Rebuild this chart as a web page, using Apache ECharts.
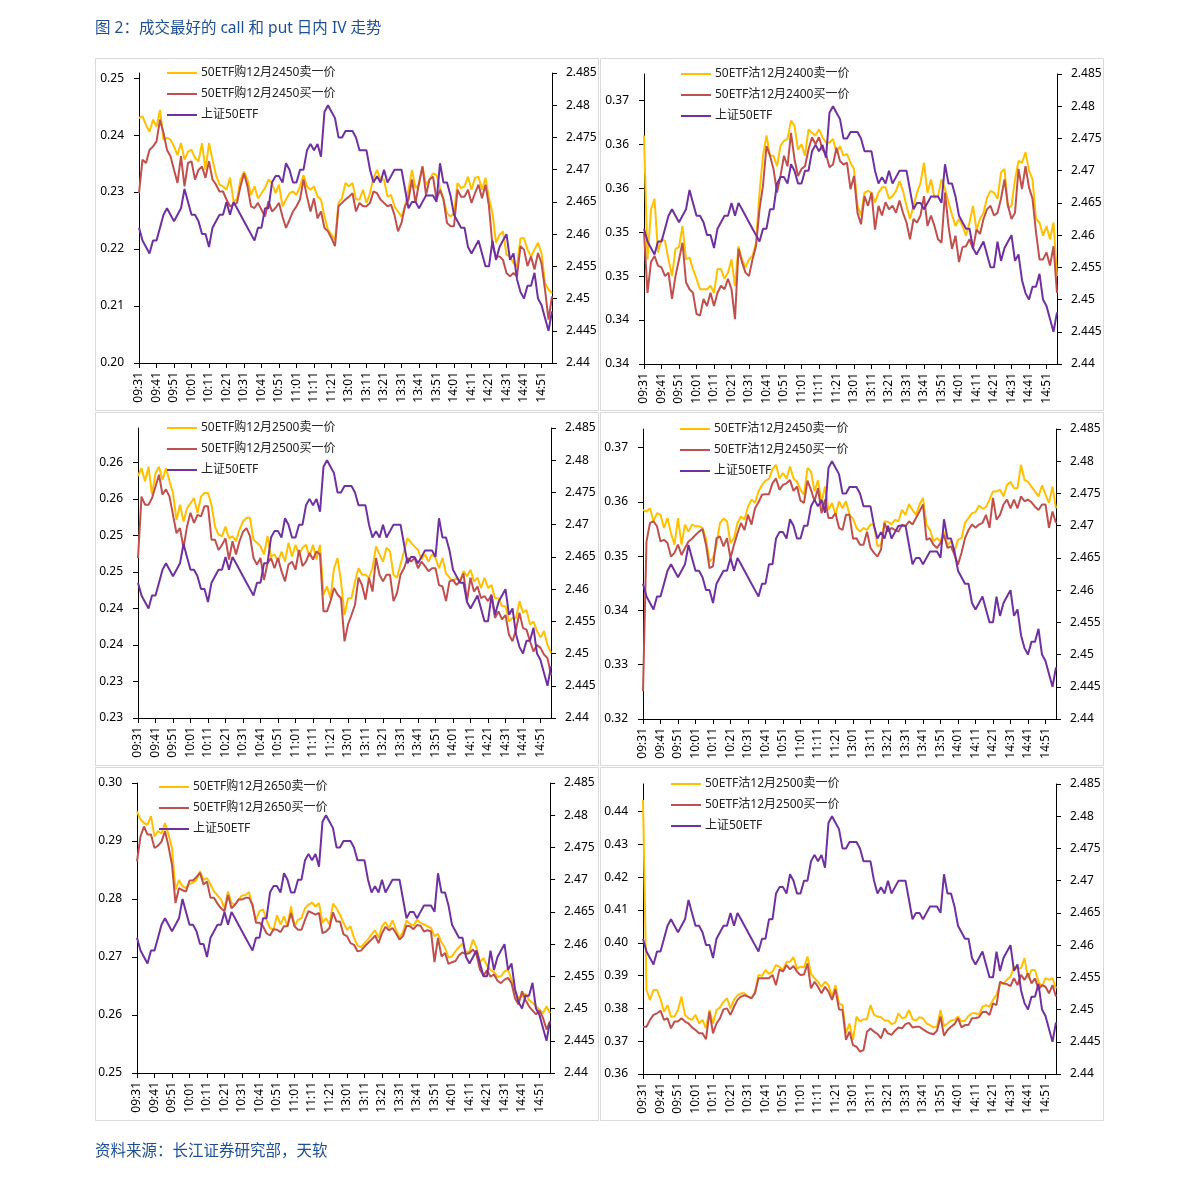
<!DOCTYPE html>
<html><head><meta charset="utf-8">
<script src="https://cdn.jsdelivr.net/npm/echarts@6/dist/echarts.min.js"></script>
<style>html,body{margin:0;padding:0;background:#fff}#c{width:1191px;height:1181px}</style>
</head><body><div id="c"></div>
<script>
// ---- categories (2-minute samples) ----
const CATS = [
"09:31","09:33","09:35","09:37","09:39","09:41","09:43","09:45","09:47","09:49",
"09:51","09:53","09:55","09:57","09:59","10:01","10:03","10:05","10:07","10:09",
"10:11","10:13","10:15","10:17","10:19","10:21","10:23","10:25","10:27","10:29",
"10:31","10:33","10:35","10:37","10:39","10:41","10:43","10:45","10:47","10:49",
"10:51","10:53","10:55","10:57","10:59","11:01","11:03","11:05","11:07","11:09",
"11:11","11:13","11:15","11:17","11:19","11:21","11:23","11:25","11:27","11:29",
"13:01","13:03","13:05","13:07","13:09","13:11","13:13","13:15","13:17","13:19",
"13:21","13:23","13:25","13:27","13:29","13:31","13:33","13:35","13:37","13:39",
"13:41","13:43","13:45","13:47","13:49","13:51","13:53","13:55","13:57","13:59",
"14:01","14:03","14:05","14:07","14:09","14:11","14:13","14:15","14:17","14:19",
"14:21","14:23","14:25","14:27","14:29","14:31","14:33","14:35","14:37","14:39",
"14:41","14:43","14:45","14:47","14:49","14:51","14:53","14:55","14:57"];

// ---- 上证50ETF (right axis, same in every panel) ----
const ETF = [2.461,2.459,2.458,2.457,2.459,2.459,2.461,2.463,2.464,2.463,
2.462,2.463,2.464,2.467,2.465,2.463,2.463,2.462,2.460,2.460,
2.458,2.461,2.462,2.463,2.463,2.465,2.463,2.465,2.464,2.463,
2.462,2.461,2.460,2.459,2.461,2.461,2.464,2.464,2.468,2.469,
2.469,2.468,2.471,2.470,2.468,2.468,2.470,2.470,2.473,2.474,
2.473,2.474,2.472,2.479,2.480,2.479,2.478,2.475,2.475,2.476,
2.476,2.476,2.475,2.473,2.473,2.473,2.470,2.468,2.469,2.468,
2.470,2.468,2.469,2.470,2.470,2.470,2.467,2.464,2.465,2.465,
2.464,2.465,2.466,2.466,2.466,2.465,2.471,2.468,2.468,2.466,
2.463,2.462,2.461,2.461,2.458,2.457,2.458,2.459,2.457,2.455,
2.455,2.459,2.456,2.458,2.459,2.460,2.456,2.457,2.453,2.451,
2.450,2.452,2.452,2.454,2.450,2.449,2.447,2.445,2.448];

// ---- Panel 1: 50ETF购12月2450 ----
const P1S = [0.2430,0.2433,0.2418,0.2406,0.2427,0.2415,0.2444,0.2392,0.2395,0.2392,
0.2380,0.2365,0.2386,0.2357,0.2371,0.2374,0.2360,0.2354,0.2386,0.2339,
0.2386,0.2357,0.2330,0.2313,0.2310,0.2304,0.2325,0.2284,0.2287,0.2322,
0.2336,0.2322,0.2295,0.2310,0.2289,0.2298,0.2307,0.2322,0.2316,0.2298,
0.2313,0.2275,0.2287,0.2298,0.2301,0.2295,0.2310,0.2330,0.2310,0.2304,
0.2310,0.2292,0.2287,0.2257,0.2234,0.2225,0.2216,0.2281,0.2289,0.2316,
0.2310,0.2316,0.2287,0.2287,0.2304,0.2281,0.2298,0.2325,0.2339,0.2322,
0.2322,0.2292,0.2295,0.2275,0.2266,0.2257,0.2275,0.2304,0.2339,0.2307,
0.2313,0.2345,0.2313,0.2322,0.2333,0.2330,0.2307,0.2287,0.2263,0.2257,
0.2263,0.2316,0.2307,0.2310,0.2327,0.2304,0.2325,0.2327,0.2304,0.2325,
0.2289,0.2263,0.2211,0.2225,0.2231,0.2190,0.2187,0.2175,0.2170,0.2219,
0.2219,0.2199,0.2187,0.2199,0.2211,0.2193,0.2140,0.2129,0.2123];
const P1B = [0.2298,0.2357,0.2351,0.2374,0.2380,0.2389,0.2427,0.2404,0.2374,0.2363,
0.2339,0.2316,0.2363,0.2310,0.2351,0.2354,0.2322,0.2339,0.2345,0.2325,
0.2354,0.2322,0.2313,0.2301,0.2301,0.2287,0.2275,0.2278,0.2281,0.2310,
0.2333,0.2310,0.2275,0.2272,0.2281,0.2269,0.2257,0.2284,0.2266,0.2272,
0.2281,0.2257,0.2237,0.2251,0.2266,0.2275,0.2287,0.2322,0.2292,0.2266,
0.2289,0.2254,0.2266,0.2237,0.2231,0.2219,0.2205,0.2275,0.2281,0.2287,
0.2292,0.2298,0.2266,0.2281,0.2275,0.2275,0.2281,0.2301,0.2298,0.2287,
0.2281,0.2275,0.2278,0.2260,0.2231,0.2246,0.2275,0.2287,0.2322,0.2281,
0.2316,0.2345,0.2295,0.2322,0.2327,0.2287,0.2304,0.2287,0.2246,0.2240,
0.2240,0.2304,0.2292,0.2292,0.2304,0.2281,0.2298,0.2313,0.2289,0.2313,
0.2275,0.2205,0.2187,0.2187,0.2181,0.2158,0.2152,0.2158,0.2152,0.2205,
0.2199,0.2170,0.2187,0.2164,0.2193,0.2175,0.2129,0.2076,0.2117];

// ---- Panel 2: 50ETF沽12月2400 ----
const P2S = [0.3610,0.3469,0.3526,0.3538,0.3477,0.3492,0.3490,0.3469,0.3450,0.3481,
0.3483,0.3507,0.3469,0.3471,0.3458,0.3447,0.3435,0.3435,0.3435,0.3439,
0.3431,0.3458,0.3458,0.3447,0.3454,0.3469,0.3439,0.3484,0.3469,0.3460,
0.3469,0.3473,0.3488,0.3545,0.3587,0.3610,0.3587,0.3587,0.3575,0.3598,
0.3604,0.3606,0.3627,0.3621,0.3594,0.3600,0.3587,0.3617,0.3613,0.3610,
0.3617,0.3608,0.3602,0.3602,0.3606,0.3591,0.3598,0.3587,0.3589,0.3579,
0.3572,0.3530,0.3519,0.3545,0.3547,0.3545,0.3534,0.3545,0.3551,0.3551,
0.3538,0.3541,0.3547,0.3558,0.3547,0.3530,0.3515,0.3530,0.3545,0.3556,
0.3579,0.3545,0.3560,0.3539,0.3541,0.3560,0.3549,0.3534,0.3520,0.3507,
0.3515,0.3507,0.3496,0.3511,0.3530,0.3502,0.3515,0.3522,0.3539,0.3547,
0.3545,0.3538,0.3568,0.3572,0.3528,0.3530,0.3560,0.3581,0.3579,0.3591,
0.3570,0.3560,0.3515,0.3511,0.3496,0.3507,0.3492,0.3511,0.3450];
const P2B = [0.3500,0.3431,0.3466,0.3473,0.3462,0.3460,0.3450,0.3454,0.3424,0.3450,
0.3469,0.3488,0.3443,0.3435,0.3431,0.3407,0.3405,0.3424,0.3416,0.3431,
0.3416,0.3431,0.3439,0.3435,0.3447,0.3435,0.3401,0.3481,0.3466,0.3454,
0.3450,0.3469,0.3484,0.3526,0.3553,0.3598,0.3587,0.3572,0.3545,0.3564,
0.3587,0.3575,0.3613,0.3583,0.3564,0.3572,0.3575,0.3594,0.3608,0.3600,
0.3608,0.3594,0.3589,0.3574,0.3577,0.3596,0.3581,0.3577,0.3579,0.3549,
0.3564,0.3522,0.3509,0.3541,0.3530,0.3545,0.3503,0.3530,0.3519,0.3534,
0.3526,0.3530,0.3522,0.3536,0.3522,0.3511,0.3492,0.3515,0.3511,0.3519,
0.3541,0.3507,0.3519,0.3507,0.3492,0.3488,0.3545,0.3507,0.3481,0.3496,
0.3466,0.3483,0.3484,0.3492,0.3481,0.3503,0.3498,0.3515,0.3526,0.3530,
0.3519,0.3522,0.3538,0.3560,0.3530,0.3515,0.3522,0.3572,0.3549,0.3575,
0.3551,0.3538,0.3500,0.3469,0.3469,0.3477,0.3462,0.3484,0.3431];

// ---- Panel 3: 50ETF购12月2500 ----
const P3S = [0.2581,0.2592,0.2574,0.2594,0.2556,0.2585,0.2594,0.2576,0.2592,0.2574,
0.2558,0.2521,0.2542,0.2519,0.2537,0.2544,0.2551,0.2531,0.2553,0.2558,
0.2558,0.2542,0.2512,0.2501,0.2499,0.2512,0.2496,0.2499,0.2492,0.2508,
0.2519,0.2524,0.2524,0.2494,0.2490,0.2485,0.2474,0.2499,0.2471,0.2474,
0.2464,0.2478,0.2464,0.2490,0.2471,0.2487,0.2474,0.2483,0.2487,0.2471,
0.2487,0.2467,0.2487,0.2419,0.2430,0.2414,0.2455,0.2469,0.2437,0.2391,
0.2414,0.2414,0.2437,0.2455,0.2446,0.2446,0.2442,0.2455,0.2485,0.2474,
0.2464,0.2483,0.2478,0.2446,0.2442,0.2460,0.2478,0.2496,0.2490,0.2485,
0.2480,0.2467,0.2474,0.2464,0.2474,0.2469,0.2455,0.2469,0.2448,0.2442,
0.2437,0.2442,0.2437,0.2451,0.2444,0.2453,0.2437,0.2442,0.2428,0.2442,
0.2428,0.2432,0.2414,0.2414,0.2403,0.2403,0.2382,0.2387,0.2387,0.2410,
0.2394,0.2398,0.2378,0.2382,0.2369,0.2360,0.2369,0.2350,0.2339];
const P3B = [0.2469,0.2553,0.2542,0.2542,0.2551,0.2567,0.2583,0.2556,0.2563,0.2553,
0.2528,0.2503,0.2510,0.2483,0.2512,0.2531,0.2517,0.2528,0.2526,0.2540,
0.2540,0.2494,0.2494,0.2480,0.2487,0.2496,0.2467,0.2492,0.2474,0.2492,
0.2505,0.2510,0.2499,0.2469,0.2460,0.2469,0.2439,0.2462,0.2469,0.2455,
0.2469,0.2451,0.2437,0.2460,0.2464,0.2453,0.2480,0.2458,0.2464,0.2476,
0.2467,0.2478,0.2474,0.2396,0.2396,0.2410,0.2428,0.2419,0.2414,0.2355,
0.2378,0.2391,0.2405,0.2442,0.2432,0.2412,0.2442,0.2423,0.2469,0.2446,
0.2437,0.2446,0.2446,0.2410,0.2421,0.2446,0.2455,0.2469,0.2464,0.2469,
0.2455,0.2464,0.2458,0.2451,0.2455,0.2455,0.2432,0.2430,0.2410,0.2437,
0.2439,0.2432,0.2437,0.2448,0.2410,0.2442,0.2423,0.2430,0.2414,0.2417,
0.2410,0.2419,0.2387,0.2396,0.2385,0.2391,0.2364,0.2355,0.2371,0.2394,
0.2373,0.2371,0.2355,0.2341,0.2350,0.2346,0.2337,0.2332,0.2309];

// ---- Panel 4: 50ETF沽12月2450 ----
const P4S = [0.3585,0.3582,0.3588,0.3564,0.3579,0.3576,0.3552,0.3570,0.3542,0.3521,
0.3570,0.3521,0.3558,0.3545,0.3558,0.3555,0.3555,0.3552,0.3532,0.3490,
0.3496,0.3521,0.3561,0.3569,0.3564,0.3524,0.3533,0.3561,0.3573,0.3567,
0.3591,0.3604,0.3598,0.3619,0.3631,0.3639,0.3642,0.3660,0.3668,0.3643,
0.3653,0.3643,0.3665,0.3643,0.3637,0.3622,0.3613,0.3662,0.3656,0.3619,
0.3640,0.3598,0.3628,0.3585,0.3598,0.3576,0.3601,0.3588,0.3601,0.3576,
0.3569,0.3552,0.3545,0.3552,0.3548,0.3558,0.3558,0.3518,0.3521,0.3564,
0.3563,0.3558,0.3567,0.3564,0.3585,0.3576,0.3596,0.3585,0.3576,0.3595,
0.3607,0.3558,0.3548,0.3528,0.3533,0.3527,0.3545,0.3521,0.3527,0.3509,
0.3530,0.3533,0.3561,0.3570,0.3579,0.3581,0.3593,0.3587,0.3590,0.3604,
0.3619,0.3619,0.3622,0.3610,0.3631,0.3637,0.3625,0.3625,0.3668,0.3640,
0.3637,0.3628,0.3619,0.3610,0.3630,0.3613,0.3598,0.3628,0.3588];
const P4B = [0.3251,0.3527,0.3561,0.3564,0.3555,0.3527,0.3530,0.3524,0.3499,0.3506,
0.3521,0.3502,0.3515,0.3527,0.3532,0.3539,0.3545,0.3550,0.3521,0.3478,
0.3481,0.3533,0.3536,0.3518,0.3533,0.3496,0.3521,0.3542,0.3561,0.3548,
0.3576,0.3558,0.3588,0.3599,0.3613,0.3614,0.3614,0.3634,0.3643,0.3622,
0.3631,0.3634,0.3640,0.3620,0.3628,0.3602,0.3598,0.3639,0.3622,0.3601,
0.3625,0.3579,0.3604,0.3570,0.3570,0.3579,0.3552,0.3548,0.3576,0.3576,
0.3532,0.3533,0.3521,0.3521,0.3545,0.3515,0.3506,0.3499,0.3512,0.3561,
0.3545,0.3552,0.3548,0.3545,0.3558,0.3555,0.3564,0.3558,0.3570,0.3582,
0.3595,0.3530,0.3533,0.3521,0.3515,0.3524,0.3539,0.3515,0.3518,0.3502,
0.3484,0.3506,0.3533,0.3548,0.3558,0.3552,0.3558,0.3561,0.3576,0.3552,
0.3607,0.3567,0.3576,0.3595,0.3604,0.3588,0.3604,0.3588,0.3610,0.3601,
0.3604,0.3599,0.3591,0.3585,0.3595,0.3595,0.3552,0.3582,0.3561];

// ---- Panel 5: 50ETF购12月2650 ----
const P5S = [0.2951,0.2937,0.2931,0.2928,0.2943,0.2908,0.2917,0.2913,0.2931,0.2911,
0.2888,0.2816,0.2833,0.2822,0.2819,0.2826,0.2828,0.2833,0.2848,0.2833,
0.2836,0.2825,0.2813,0.2806,0.2799,0.2784,0.2813,0.2793,0.2790,0.2799,
0.2806,0.2807,0.2812,0.2787,0.2764,0.2779,0.2782,0.2764,0.2750,0.2747,
0.2772,0.2756,0.2770,0.2753,0.2787,0.2753,0.2764,0.2767,0.2784,0.2790,
0.2794,0.2787,0.2793,0.2759,0.2767,0.2756,0.2792,0.2784,0.2773,0.2759,
0.2747,0.2753,0.2733,0.2720,0.2717,0.2724,0.2730,0.2739,0.2746,0.2733,
0.2753,0.2760,0.2750,0.2763,0.2747,0.2733,0.2743,0.2763,0.2757,0.2754,
0.2764,0.2759,0.2756,0.2753,0.2750,0.2736,0.2740,0.2725,0.2716,0.2699,
0.2701,0.2710,0.2717,0.2723,0.2708,0.2710,0.2730,0.2716,0.2691,0.2698,
0.2685,0.2678,0.2674,0.2666,0.2667,0.2675,0.2678,0.2661,0.2641,0.2629,
0.2632,0.2637,0.2626,0.2621,0.2615,0.2609,0.2603,0.2615,0.2603];
const P5B = [0.2865,0.2908,0.2925,0.2911,0.2911,0.2888,0.2892,0.2899,0.2917,0.2891,
0.2859,0.2793,0.2819,0.2815,0.2813,0.2832,0.2832,0.2838,0.2845,0.2825,
0.2830,0.2802,0.2802,0.2792,0.2784,0.2779,0.2807,0.2784,0.2790,0.2799,
0.2799,0.2802,0.2802,0.2790,0.2759,0.2759,0.2753,0.2741,0.2737,0.2748,
0.2747,0.2743,0.2753,0.2753,0.2776,0.2753,0.2747,0.2747,0.2764,0.2779,
0.2776,0.2773,0.2776,0.2741,0.2744,0.2750,0.2777,0.2761,0.2761,0.2739,
0.2736,0.2724,0.2721,0.2710,0.2711,0.2718,0.2724,0.2730,0.2737,0.2724,
0.2741,0.2752,0.2746,0.2750,0.2741,0.2730,0.2736,0.2754,0.2753,0.2748,
0.2755,0.2754,0.2744,0.2746,0.2744,0.2691,0.2733,0.2701,0.2707,0.2688,
0.2691,0.2693,0.2703,0.2708,0.2705,0.2707,0.2713,0.2704,0.2678,0.2668,
0.2677,0.2666,0.2670,0.2659,0.2655,0.2661,0.2664,0.2655,0.2629,0.2618,
0.2641,0.2626,0.2615,0.2608,0.2601,0.2608,0.2595,0.2575,0.2589];

// ---- Panel 6: 50ETF沽12月2500 ----
const P6S = [0.4435,0.3856,0.3826,0.3856,0.3856,0.3828,0.3790,0.3810,0.3775,0.3775,
0.3795,0.3836,0.3780,0.3770,0.3765,0.3780,0.3754,0.3765,0.3739,0.3795,
0.3754,0.3795,0.3803,0.3820,0.3831,0.3800,0.3826,0.3840,0.3846,0.3846,
0.3836,0.3831,0.3846,0.3902,0.3899,0.3917,0.3905,0.3912,0.3932,0.3927,
0.3917,0.3942,0.3942,0.3956,0.3922,0.3927,0.3925,0.3958,0.3905,0.3892,
0.3881,0.3866,0.3881,0.3871,0.3836,0.3871,0.3815,0.3810,0.3724,0.3754,
0.3704,0.3775,0.3760,0.3767,0.3767,0.3810,0.3780,0.3775,0.3773,0.3763,
0.3763,0.3752,0.3756,0.3785,0.3770,0.3773,0.3795,0.3767,0.3763,0.3773,
0.3770,0.3754,0.3749,0.3742,0.3744,0.3795,0.3746,0.3754,0.3763,0.3765,
0.3775,0.3760,0.3763,0.3777,0.3785,0.3785,0.3781,0.3805,0.3810,0.3805,
0.3826,0.3841,0.3876,0.3876,0.3887,0.3897,0.3927,0.3922,0.3922,0.3953,
0.3892,0.3917,0.3917,0.3881,0.3866,0.3892,0.3887,0.3892,0.3861];
const P6B = [0.3744,0.3744,0.3765,0.3780,0.3785,0.3793,0.3765,0.3770,0.3739,0.3760,
0.3760,0.3770,0.3760,0.3754,0.3742,0.3734,0.3724,0.3724,0.3706,0.3790,
0.3724,0.3754,0.3770,0.3797,0.3800,0.3780,0.3805,0.3826,0.3836,0.3840,
0.3836,0.3831,0.3848,0.3892,0.3892,0.3892,0.3892,0.3902,0.3871,0.3919,
0.3912,0.3932,0.3919,0.3929,0.3912,0.3902,0.3903,0.3937,0.3861,0.3881,
0.3866,0.3846,0.3866,0.3851,0.3826,0.3858,0.3797,0.3795,0.3704,0.3729,
0.3688,0.3683,0.3668,0.3673,0.3729,0.3739,0.3729,0.3722,0.3709,0.3739,
0.3724,0.3719,0.3732,0.3742,0.3739,0.3752,0.3756,0.3742,0.3744,0.3744,
0.3736,0.3729,0.3724,0.3721,0.3732,0.3775,0.3717,0.3734,0.3744,0.3752,
0.3770,0.3742,0.3749,0.3749,0.3770,0.3771,0.3773,0.3789,0.3790,0.3780,
0.3815,0.3810,0.3881,0.3876,0.3874,0.3868,0.3892,0.3871,0.3902,0.3887,
0.3907,0.3876,0.3892,0.3858,0.3871,0.3866,0.3846,0.3871,0.3836];

// ---- tick labels ----
const P1_TICKS = [0.20,0.21,0.22,0.23,0.24,0.25];
const P2_TICKS = [0.335,0.34,0.345,0.35,0.355,0.36,0.365];
const P3_TICKS = [0.225,0.23,0.235,0.24,0.245,0.25,0.255,0.26];
const P4_TICKS = [0.32,0.33,0.34,0.35,0.36,0.37];
const P5_TICKS = [0.25,0.26,0.27,0.28,0.29,0.30];
const P6_TICKS = [0.36,0.37,0.38,0.39,0.40,0.41,0.42,0.43,0.44];
const ETF_TICKS = [2.44,2.445,2.45,2.455,2.46,2.465,2.47,2.475,2.48,2.485];

const ETF_NAME = '上证50ETF';
const TITLE = '图 2：成交最好的 call 和 put 日内 IV 走势';
const SOURCE = '资料来源：长江证券研究部，天软';

const PANELS = [
  {sell:P1S, buy:P1B, names:['50ETF购12月2450卖一价','50ETF购12月2450买一价'], ticks:P1_TICKS, min:0.20, max:0.2509, interval:0.01,
   grid:{left:139,top:73,width:413,height:290}, legend:{left:167,top:66}, box:[95,58,503,352]},
  {sell:P2S, buy:P2B, names:['50ETF沽12月2400卖一价','50ETF沽12月2400买一价'], ticks:P2_TICKS, min:0.335, max:0.3680, interval:0.005,
   grid:{left:644,top:74,width:413,height:290}, legend:{left:681,top:67}, box:[600,58,503,352]},
  {sell:P3S, buy:P3B, names:['50ETF购12月2500卖一价','50ETF购12月2500买一价'], ticks:P3_TICKS, min:0.225, max:0.2647, interval:0.005,
   grid:{left:138,top:428,width:413,height:290}, legend:{left:167,top:421}, box:[95,412,503,353]},
  {sell:P4S, buy:P4B, names:['50ETF沽12月2450卖一价','50ETF沽12月2450买一价'], ticks:P4_TICKS, min:0.32, max:0.3734, interval:0.01,
   grid:{left:643,top:429,width:413,height:290}, legend:{left:680,top:422}, box:[600,412,503,353]},
  {sell:P5S, buy:P5B, names:['50ETF购12月2650卖一价','50ETF购12月2650买一价'], ticks:P5_TICKS, min:0.25, max:0.30, interval:0.01,
   grid:{left:137,top:783,width:413,height:290}, legend:{left:159,top:780}, box:[95,767,503,353]},
  {sell:P6S, buy:P6B, names:['50ETF沽12月2500卖一价','50ETF沽12月2500买一价'], ticks:P6_TICKS, min:0.36, max:0.4484, interval:0.01,
   grid:{left:643,top:784,width:413,height:290}, legend:{left:671,top:777}, box:[600,767,503,353]}
];

const FONT = "'Noto Sans','Noto Sans CJK SC',sans-serif";
const C_SELL = '#FFC000', C_BUY = '#C0504D', C_ETF = '#7030A0';
const AX = '#000000';

const grids = [], xAxes = [], yAxes = [], series = [], legends = [], graphics = [];
PANELS.forEach((p, k) => {
  grids.push(Object.assign({containLabel:false}, p.grid));
  xAxes.push({type:'category', gridIndex:k, data:CATS, boundaryGap:false,
    axisLine:{lineStyle:{color:AX,width:1}},
    axisTick:{show:true, interval:4, length:5, lineStyle:{color:AX}},
    axisLabel:{interval:4, rotate:90, margin:9, fontSize:12, color:'#000', fontFamily:FONT},
    splitLine:{show:false}});
  yAxes.push({type:'value', gridIndex:k, position:'left', min:p.min, max:p.max, interval:p.interval,
    axisLine:{show:true, lineStyle:{color:AX,width:1}},
    axisTick:{show:true, length:5, customValues:p.ticks, lineStyle:{color:AX}},
    axisLabel:{customValues:p.ticks, margin:15, fontSize:12, color:'#000', fontFamily:FONT,
      formatter:v => (Math.round(v*100 + 1e-6)/100).toFixed(2)},
    splitLine:{show:false}});
  yAxes.push({type:'value', gridIndex:k, position:'right', min:2.44, max:2.485, interval:0.005,
    axisLine:{show:true, lineStyle:{color:AX,width:1}},
    axisTick:{show:true, length:5, customValues:ETF_TICKS, lineStyle:{color:AX}},
    axisLabel:{customValues:ETF_TICKS, margin:14, fontSize:12, color:'#000', fontFamily:FONT,
      formatter:v => String(+(+v).toFixed(3))},
    splitLine:{show:false}});
  const base = {type:'line', xAxisIndex:k, showSymbol:false, symbol:'none', animation:false, silent:true};
  series.push(Object.assign({}, base, {name:p.names[0], yAxisIndex:2*k, data:p.sell, color:C_SELL, lineStyle:{color:C_SELL,width:2}}));
  series.push(Object.assign({}, base, {name:p.names[1], yAxisIndex:2*k, data:p.buy, color:C_BUY, lineStyle:{color:C_BUY,width:2}}));
  series.push(Object.assign({}, base, {name:ETF_NAME, yAxisIndex:2*k+1, data:ETF, color:C_ETF, lineStyle:{color:C_ETF,width:2}}));
  legends.push({orient:'vertical', left:p.legend.left, top:p.legend.top+1, padding:0,
    icon:'rect', itemWidth:30, itemHeight:2, itemGap:9, selectedMode:false,
    data:[p.names[0], p.names[1], ETF_NAME],
    textStyle:{fontSize:12, lineHeight:12, color:'#222', fontFamily:FONT, padding:[0,0,0,-1]}});
  graphics.push({type:'rect', silent:true, shape:{x:p.box[0]+0.5, y:p.box[1]+0.5, width:p.box[2], height:p.box[3]},
    style:{fill:'none', stroke:'#D9D9D9', lineWidth:1}, z:-10});
});

const chart = echarts.init(document.getElementById('c'), null, {renderer:'canvas'});
chart.setOption({
  backgroundColor:'#ffffff',
  animation:false,
  textStyle:{fontFamily:FONT},
  title:[
    {text:TITLE, left:95, top:21, padding:0, textStyle:{fontSize:15.5, fontWeight:'normal', color:'#1C4F95', fontFamily:FONT}},
    {text:SOURCE, left:95, top:1144, padding:0, textStyle:{fontSize:15.5, fontWeight:'normal', color:'#1C4F95', fontFamily:FONT}}
  ],
  grid:grids, xAxis:xAxes, yAxis:yAxes, series:series, legend:legends, graphic:graphics
});
</script></body></html>
